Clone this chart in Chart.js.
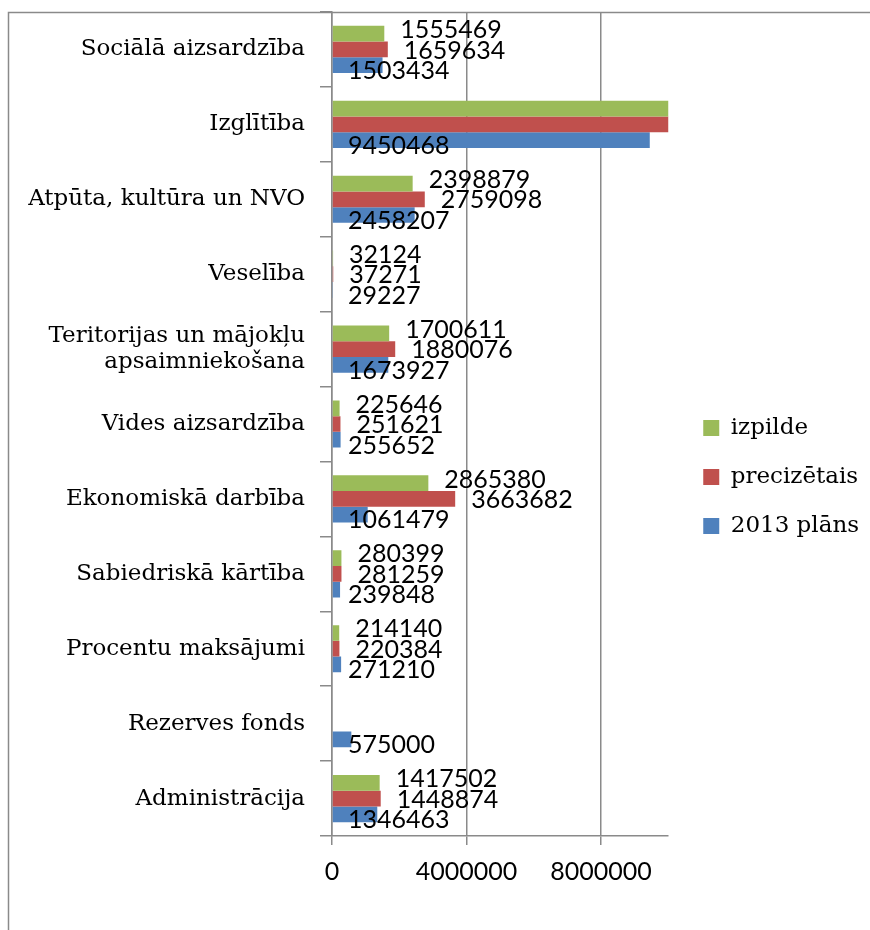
<!DOCTYPE html>
<html>
<head>
<meta charset="utf-8">
<script src="https://cdn.jsdelivr.net/npm/chart.js@4.4.1/dist/chart.umd.min.js"></script>
<style>
  body { margin: 0; background: #fff; }
</style>
</head>
<body>
<canvas id="budgetChart" width="870" height="930"></canvas>
<script>
// categories, top to bottom
var categories = [
  'Sociālā aizsardzība',
  'Izglītība',
  'Atpūta, kultūra un NVO',
  'Veselība',
  ['Teritorijas un mājokļu', 'apsaimniekošana'],
  'Vides aizsardzība',
  'Ekonomiskā darbība',
  'Sabiedriskā kārtība',
  'Procentu maksājumi',
  'Rezerves fonds',
  'Administrācija'
];

// Izglītība izpilde / precizētais run off the axis, values estimated
var izpilde     = [1555469, 10250000, 2398879, 32124, 1700611, 225646, 2865380, 280399, 214140, null, 1417502];
var precizetais = [1659634, 10500000, 2759098, 37271, 1880076, 251621, 3663682, 281259, 220384, null, 1448874];
var plans2013   = [1503434, 9450468, 2458207, 29227, 1673927, 255652, 1061479, 239848, 271210, 575000, 1346463];

var seriesNames = ['izpilde', 'precizētais', '2013 plāns'];
var xTickValues = [0, 4000000, 8000000];
var xMax = 10000000;

var gridColor = '#8a8a8a';
var serifFont = "'DejaVu Serif', serif";
var sansFont = "Lato, 'Liberation Sans', sans-serif";

// outer frame of the chart object
var framePlugin = {
  id: 'frame',
  beforeDraw: function(chart) {
    var ctx = chart.ctx;
    ctx.save();
    ctx.strokeStyle = gridColor;
    ctx.lineWidth = 1.5;
    ctx.beginPath();
    ctx.moveTo(8.5, chart.height + 5);
    ctx.lineTo(8.5, 12.5);
    ctx.lineTo(chart.width + 5, 12.5);
    ctx.stroke();
    ctx.restore();
  }
};

// nudge the legend a little right / down, like the original
var legendShift = {
  id: 'legendShift',
  afterLayout: function(chart) {
    var lg = chart.legend;
    if (!lg) return;
    lg.left += 9; lg.right += 9;
    lg.top += 6; lg.bottom += 6;
  }
};

// value labels: green/red outside end, blue at inside base
var valueLabels = {
  id: 'valueLabels',
  afterDatasetsDraw: function(chart) {
    var ctx = chart.ctx;
    var xs = chart.scales.x, ys = chart.scales.y;
    ctx.save();
    ctx.font = '25px ' + sansFont;
    ctx.fillStyle = '#000';
    ctx.textAlign = 'left';
    ctx.textBaseline = 'middle';
    chart.data.datasets.forEach(function(ds, di) {
      var meta = chart.getDatasetMeta(di);
      meta.data.forEach(function(bar, i) {
        var v = ds.data[i];
        if (v === null || v > xMax) return;
        var center = ys.getPixelForValue(i);
        var y = center + (bar.y - center) * 1.3;
        var x = (di === 2) ? xs.getPixelForValue(0) + 16 : bar.x + 16;
        ctx.fillText(String(v), x, y + 1);
      });
    });
    ctx.restore();
  }
};

var ctx = document.getElementById('budgetChart');
var myChart = new Chart(ctx, {
  type: 'bar',
  data: {
    labels: categories,
    datasets: [{
      label: seriesNames[0],
      data: izpilde,
      backgroundColor: '#9bbb59',
      borderWidth: 0,
      clip: 0
    }, {
      label: seriesNames[1],
      data: precizetais,
      backgroundColor: '#c0504d',
      borderWidth: 0,
      clip: 0
    }, {
      label: seriesNames[2],
      data: plans2013,
      backgroundColor: '#4f81bd',
      borderWidth: 0,
      clip: 0
    }]
  },
  options: {
    indexAxis: 'y',
    responsive: false,
    animation: false,
    categoryPercentage: 0.63,
    barPercentage: 1.0,
    layout: {
      padding: { left: 8, top: 12, right: 10, bottom: 0 }
    },
    scales: {
      x: {
        min: 0,
        max: xMax,
        afterBuildTicks: function(scale) {
          scale.ticks = xTickValues.map(function(v) { return { value: v }; });
        },
        ticks: {
          color: '#000',
          padding: 12,
          maxRotation: 0,
          autoSkip: false,
          font: { family: sansFont, size: 25 },
          callback: function(v) { return String(v); }
        },
        grid: {
          color: gridColor,
          lineWidth: 1.5,
          tickLength: 9
        },
        border: { color: gridColor, width: 1.5 },
        afterFit: function(scale) { scale.height = 94; }
      },
      y: {
        ticks: {
          color: '#000',
          padding: 15,
          font: { family: serifFont, size: 23, lineHeight: 1.1 }
        },
        grid: {
          offset: true,
          drawOnChartArea: false,
          color: gridColor,
          lineWidth: 1.5,
          tickLength: 12
        },
        border: { color: gridColor, width: 1.5 },
        afterFit: function(scale) {
          scale.width = 324;
          scale.paddingTop = 0;
          scale.paddingBottom = 0;
        }
      }
    },
    plugins: {
      legend: {
        position: 'right',
        labels: {
          boxWidth: 16,
          boxHeight: 16,
          padding: 26,
          color: '#000',
          font: { family: serifFont, size: 23 }
        }
      },
      tooltip: { enabled: false }
    }
  },
  plugins: [framePlugin, legendShift, valueLabels]
});
</script>
</body>
</html>
